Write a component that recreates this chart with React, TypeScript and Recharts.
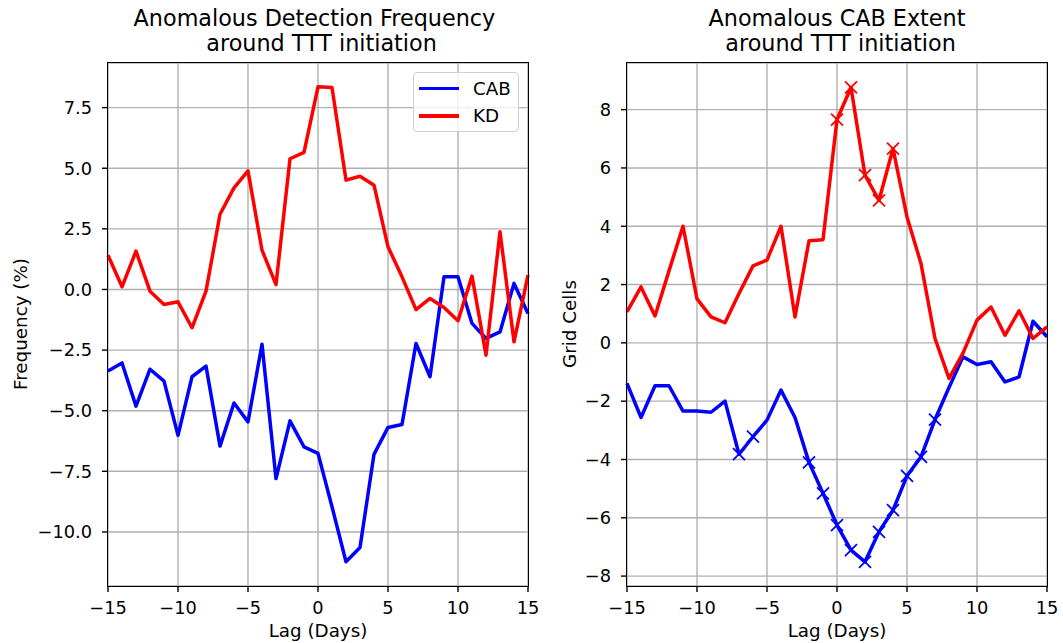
import React from 'react';
import { LineChart, Line, XAxis, YAxis, CartesianGrid } from 'recharts';

// lag in days around TTT initiation
const days = [-15, -14, -13, -12, -11, -10, -9, -8, -7, -6, -5, -4, -3, -2, -1, 0, 1, 2, 3, 4, 5, 6, 7, 8, 9, 10, 11, 12, 13, 14, 15];

// left panel: anomalous detection frequency (%)
const freqCab = [-3.36, -3.03, -4.81, -3.29, -3.78, -6.02, -3.6, -3.16, -6.46, -4.68, -5.46, -2.26, -7.8, -5.42, -6.49, -6.76, -8.96, -11.23, -10.64, -6.8, -5.69, -5.57, -2.23, -3.6, 0.52, 0.52, -1.4, -2.02, -1.75, 0.25, -0.99];
const freqKd = [1.41, 0.11, 1.58, -0.07, -0.62, -0.51, -1.58, -0.07, 3.1, 4.19, 4.89, 1.62, 0.2, 5.39, 5.65, 8.36, 8.33, 4.51, 4.67, 4.3, 1.76, 0.52, -0.83, -0.37, -0.74, -1.29, 0.55, -2.71, 2.38, -2.16, 0.59];

// right panel: anomalous CAB extent (grid cells)
const extentCab = [-1.39, -2.56, -1.47, -1.47, -2.34, -2.34, -2.38, -2.0, -3.82, -3.22, -2.65, -1.62, -2.56, -4.1, -5.16, -6.25, -7.11, -7.51, -6.48, -5.74, -4.56, -3.91, -2.63, -1.53, -0.48, -0.74, -0.65, -1.34, -1.17, 0.74, 0.21];
const extentKd = [1.06, 1.92, 0.92, 2.47, 4.0, 1.51, 0.89, 0.69, 1.69, 2.64, 2.84, 4.0, 0.89, 3.5, 3.54, 7.66, 8.76, 5.75, 4.89, 6.66, 4.32, 2.72, 0.15, -1.22, -0.35, 0.78, 1.23, 0.26, 1.1, 0.15, 0.55];

// days flagged with an x marker on the right panel
const cabMarkedDays = [-7, -6, -2, -1, 0, 1, 2, 3, 4, 5, 6, 7];
const kdMarkedDays = [0, 1, 2, 3, 4];

const xTicks = [-15, -10, -5, 0, 5, 10, 15];
const freqTicks = [-10, -7.5, -5, -2.5, 0, 2.5, 5, 7.5];
const extentTicks = [-8, -6, -4, -2, 0, 2, 4, 6, 8];

const seriesNames = ['CAB', 'KD'];
const BLUE = '#0000ff';
const RED = '#ff0000';
const FONT = '"DejaVu Sans", sans-serif';
const LABEL_SIZE = 18.3;

const freqRows = days.map((d, i) => ({ day: d, cab: freqCab[i], kd: freqKd[i] }));
const extentRows = days.map((d, i) => ({ day: d, cab: extentCab[i], kd: extentKd[i] }));

const minus = (s: string) => s.replace('-', '\u2212');
const tickStyle = { fontSize: 17.8, fill: '#000', fontFamily: FONT };

const crossDot = (marked: number[], color: string) => (p: any) => {
  const { cx, cy, payload, index } = p;
  if (!marked.includes(payload.day) || cx == null || cy == null) return <g key={`n${index}`} />;
  const r = 6;
  return (
    <g key={`x${index}`}>
      <line x1={cx - r} y1={cy - r} x2={cx + r} y2={cy + r} stroke={color} strokeWidth={1.8} />
      <line x1={cx - r} y1={cy + r} x2={cx + r} y2={cy - r} stroke={color} strokeWidth={1.8} />
    </g>
  );
};

const abs = (style: React.CSSProperties): React.CSSProperties => ({ position: 'absolute', whiteSpace: 'pre', ...style });

const Frame = ({ left, top, width, height }: { left: number; top: number; width: number; height: number }) => (
  <div style={abs({ left: left - 0.7, top: top - 0.7, width: width + 1.4, height: height + 1.4, border: '1.4px solid #000', boxSizing: 'border-box', pointerEvents: 'none' })} />
);

const Title = ({ lines, center }: { lines: string[]; center: number }) => (
  <>
    {lines.map((t, i) => (
      <div key={i} style={abs({ left: center - 250, width: 500, top: 6.4 + i * 25, textAlign: 'center', fontSize: 22.3, lineHeight: '25px' })}>{t}</div>
    ))}
  </>
);

const App: React.FC = () => {
  return (
    <div style={{ position: 'absolute', left: 0, top: 0, width: 1063, height: 643, background: '#fff', fontFamily: FONT, color: '#000' }}>
      {/* left panel */}
      <div style={abs({ left: 0, top: 0 })}>
        <LineChart width={540} height={643} data={freqRows} margin={{ top: 63, right: 12, bottom: 0, left: 0 }}>
          <CartesianGrid stroke="#b0b0b0" strokeWidth={1.4} />
          <XAxis dataKey="day" type="number" domain={[-15, 15]} ticks={xTicks} interval={0} height={57} tickSize={6} tickMargin={9}
            tick={tickStyle} tickLine={{ stroke: '#000', strokeWidth: 1.4 }} axisLine={false} tickFormatter={(v: number) => minus(String(v))} />
          <YAxis type="number" domain={[-12.23, 9.34]} ticks={freqTicks} interval={0} width={108} tickSize={6} tickMargin={10}
            tick={tickStyle} tickLine={{ stroke: '#000', strokeWidth: 1.4 }} axisLine={false} allowDataOverflow
            tickFormatter={(v: number) => minus(v.toFixed(1))} />
          <Line dataKey="cab" name="CAB" stroke={BLUE} strokeWidth={3.5} dot={false} isAnimationActive={false} strokeLinejoin="round" />
          <Line dataKey="kd" name="KD" stroke={RED} strokeWidth={3.5} dot={false} isAnimationActive={false} strokeLinejoin="round" />
        </LineChart>
      </div>
      <Frame left={108} top={63} width={420} height={523} />

      {/* right panel */}
      <div style={abs({ left: 540, top: 0 })}>
        <LineChart width={523} height={643} data={extentRows} margin={{ top: 63, right: 16, bottom: 0, left: 0 }}>
          <CartesianGrid stroke="#b0b0b0" strokeWidth={1.4} />
          <XAxis dataKey="day" type="number" domain={[-15, 15]} ticks={xTicks} interval={0} height={57} tickSize={6} tickMargin={9}
            tick={tickStyle} tickLine={{ stroke: '#000', strokeWidth: 1.4 }} axisLine={false} tickFormatter={(v: number) => minus(String(v))} />
          <YAxis type="number" domain={[-8.34, 9.6]} ticks={extentTicks} interval={0} width={87} tickSize={6} tickMargin={10}
            tick={tickStyle} tickLine={{ stroke: '#000', strokeWidth: 1.4 }} axisLine={false} allowDataOverflow
            tickFormatter={(v: number) => minus(String(v))} />
          <Line dataKey="cab" name="CAB" stroke={BLUE} strokeWidth={3.5} dot={crossDot(cabMarkedDays, BLUE)} isAnimationActive={false} strokeLinejoin="round" />
          <Line dataKey="kd" name="KD" stroke={RED} strokeWidth={3.5} dot={crossDot(kdMarkedDays, RED)} isAnimationActive={false} strokeLinejoin="round" />
        </LineChart>
      </div>
      <Frame left={627} top={63} width={420} height={523} />

      {/* titles */}
      <Title lines={['Anomalous Detection Frequency ', ' around TTT initiation']} center={318} />
      <Title lines={['Anomalous CAB Extent', ' around TTT initiation']} center={837} />

      {/* axis labels */}
      <div style={abs({ left: 318 - 100, width: 200, top: 620, textAlign: 'center', fontSize: LABEL_SIZE, lineHeight: '21px' })}>Lag (Days)</div>
      <div style={abs({ left: 837 - 100, width: 200, top: 620, textAlign: 'center', fontSize: LABEL_SIZE, lineHeight: '21px' })}>Lag (Days)</div>
      <div style={abs({ left: 20, top: 324, fontSize: LABEL_SIZE, lineHeight: '21px', transform: 'translate(-50%, -50%) rotate(-90deg)' })}>Frequency (%)</div>
      <div style={abs({ left: 569, top: 324, fontSize: LABEL_SIZE, lineHeight: '21px', transform: 'translate(-50%, -50%) rotate(-90deg)' })}>Grid Cells</div>

      {/* legend */}
      <div style={abs({ left: 413, top: 72, width: 106, height: 60, border: '1px solid #d0d0d0', borderRadius: 4, background: 'rgba(255,255,255,0.8)', boxSizing: 'border-box' })}>
        {seriesNames.map((name, i) => (
          <div key={name}>
            <div style={abs({ left: 5, top: 13.5 + i * 27.5, width: 40, height: 3.5, background: i === 0 ? BLUE : RED })} />
            <div style={abs({ left: 59, top: 4.5 + i * 27.5, fontSize: LABEL_SIZE, lineHeight: '21px' })}>{name}</div>
          </div>
        ))}
      </div>
    </div>
  );
};

export default App;
